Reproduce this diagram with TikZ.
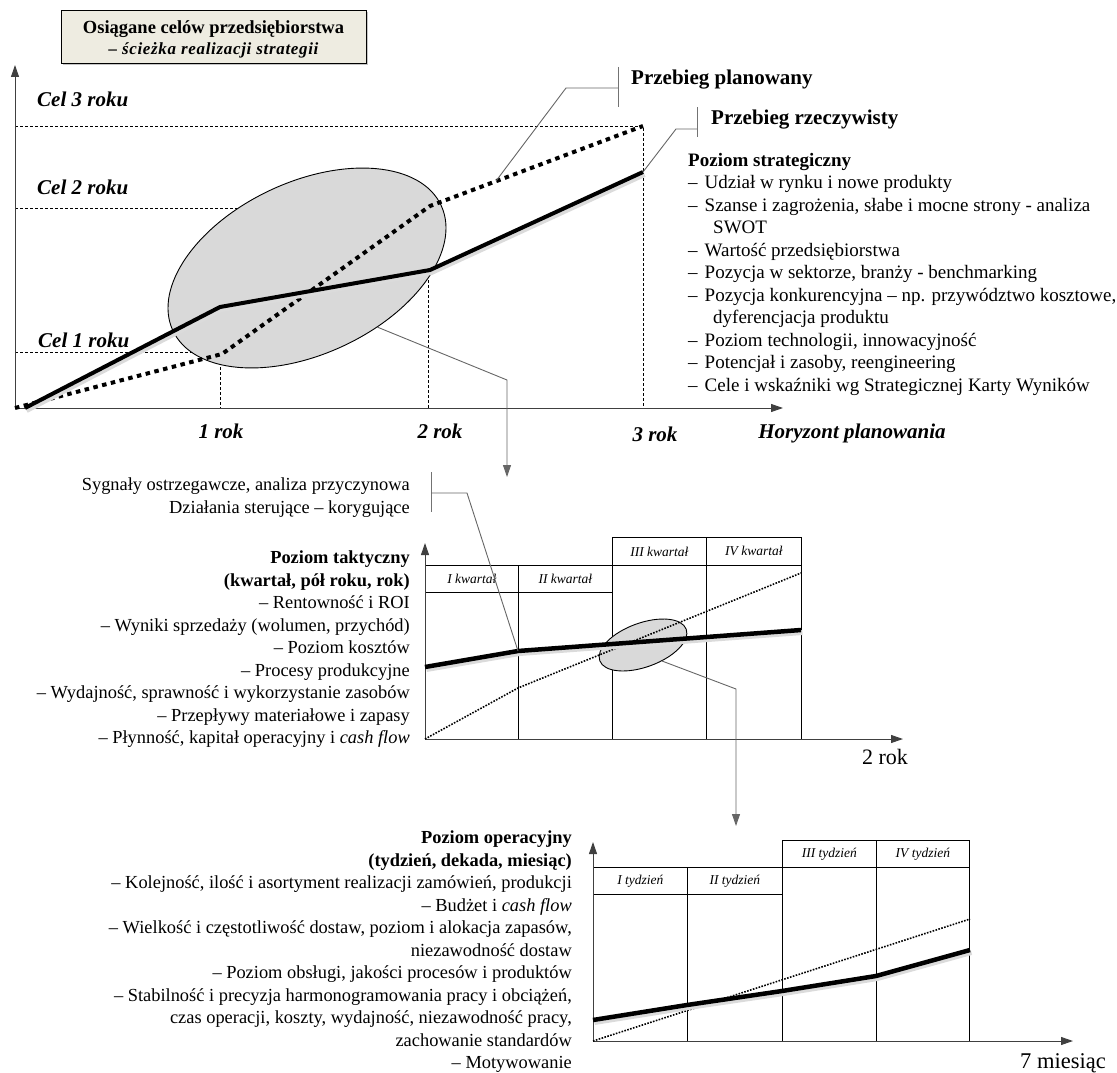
\documentclass[tikz,border=0pt]{standalone}
\usepackage{fontspec}
\setmainfont{Liberation Serif}
\usetikzlibrary{arrows.meta,shapes.geometric,shadows}
\definecolor{titlebg}{RGB}{238,236,225}

\begin{document}
\begin{tikzpicture}[x=1pt,y=-1pt,
	axis/.style={line width=1pt, black!75, -{Triangle[length=12pt,width=8pt]}},
	guide/.style={line width=0.7pt, dash pattern=on 3pt off 2pt},
	callout/.style={line width=0.9pt, black!60},
	bar/.style={line width=1pt, black!55},
	planthick/.style={line width=4pt, dash pattern=on 4.5pt off 4.5pt},
	realthick/.style={line width=4pt, line join=round},
	realshadow/.style={line width=5pt, black!14, line join=round},
	planthin/.style={line width=1.6pt, dash pattern=on 1.6pt off 1.4pt},
	cell/.style={line width=0.8pt},
	cellbox/.style={draw, line width=0.8pt, inner sep=0pt, anchor=north west, font=\fontsize{13.5}{15}\selectfont\itshape},
	goal/.style={inner sep=0pt, font=\fontsize{21}{24}\selectfont\bfseries\itshape},
	body/.style={inner sep=0pt, font=\fontsize{18.4}{22.5}\selectfont},
	]
	%%%%% START %%%%%
	\useasboundingbox (0,0) rectangle (1117,1073);
	
	% title
	\node[draw, fill=titlebg, drop shadow={shadow xshift=2pt, shadow yshift=-2pt, fill=black!45},
	minimum width=305pt, minimum height=53pt, inner sep=0pt, align=center,
	font=\fontsize{18.5}{21}\selectfont] (title) at (213.5,36.5)
	{\rule{0pt}{19pt}\bfseries Osiągane celów przedsiębiorstwa\\
		{\fontsize{17}{21}\selectfont\addfontfeature{LetterSpace=4}\bfseries\itshape – ścieżka realizacji strategii}};
	
	%%%%% strategic level %%%%%
	\coordinate (O) at (15,408);
	
	\draw[guide] (15,126) -- (643,126) -- (643,408);
	\draw[guide] (15,208) -- (428,208) -- (428,408);
	\draw[guide] (15,352) -- (220,352);
	\draw[guide] (220,307) -- (220,408);
	
	\node[ellipse, draw, line width=0.9pt, fill=black!15, minimum width=296pt, minimum height=172pt,
	inner sep=0pt, rotate=25] (bigell) at (307,268) {};
	
	\draw[axis] (O) -- (15,65);
	\draw[axis] (O) -- (783,408);
	
	\draw[planthick] (15,408) -- (222,354) -- (430,206) -- (643,126);
	\draw[realshadow, shift={(1.5,2.5)}] (25,408) -- (220,307) -- (430,270) -- (643,172);
	\draw[realthick] (25,408) -- (220,307) -- (430,270) -- (643,172);
	
	\node[goal, anchor=west] (cel3) at (37,99) {Cel 3 roku};
	\node[goal, anchor=west] (cel2) at (37,187) {Cel 2 roku};
	\node[goal, anchor=west] (cel1) at (38,340) {Cel 1 roku};
	
	\node[goal] (rok1) at (221,431) {1 rok};
	\node[goal] (rok2) at (440,431) {2 rok};
	\node[goal] (rok3) at (655,434) {3 rok};
	\node[goal] (horyzont) at (852,433) {Horyzont planowania};
	
	\coordinate (planpt) at (496,181);
	\coordinate (realpt) at (643,172);
	\draw[callout] (planpt) -- (566,88) -- (618,88);
	\draw[bar] (618,67) -- (618,107);
	\node[inner sep=0pt, anchor=west, font=\fontsize{21}{24}\selectfont\bfseries] (plan) at (631,80) {Przebieg planowany};
	\draw[callout] (realpt) -- (676,129) -- (697,129);
	\draw[bar] (697,107) -- (697,137);
	\node[inner sep=0pt, anchor=west, font=\fontsize{21}{24}\selectfont\bfseries] (real) at (711,120) {Przebieg rzeczywisty};
	
	\node[body, font=\fontsize{19}{22.5}\selectfont, anchor=north west, align=left] (strat) at (688,153) {\textbf{Poziom strategiczny}\\
		–\hspace{7pt}Udział w rynku i nowe produkty\\
		–\hspace{7pt}Szanse i zagrożenia, słabe i mocne strony - analiza\\
		\hspace*{25pt}SWOT\\
		–\hspace{7pt}Wartość przedsiębiorstwa\\
		–\hspace{7pt}Pozycja w sektorze, branży - benchmarking\\
		–\hspace{7pt}Pozycja konkurencyjna – np. przywództwo kosztowe,\\
		\hspace*{25pt}dyferencjacja produktu\\
		–\hspace{7pt}Poziom technologii, innowacyjność\\
		–\hspace{7pt}Potencjał i zasoby, reengineering\\
		–\hspace{7pt}Cele i wskaźniki wg Strategicznej Karty Wyników};
	
	\draw[callout, -{Triangle[length=12pt,width=8pt]}] (bigell.-65) -- (507,380) -- (507,477);
	
	%%%%% tactical level %%%%%
	\coordinate (O2) at (425,739);
	\node[body, anchor=north east, align=right] (signals) at (410,478)
	{Sygnały ostrzegawcze, analiza przyczynowa\\ Działania sterujące – korygujące};
	
	\node[body, anchor=north east, align=right] (tact) at (410,551) {\textbf{Poziom taktyczny}\\
		\textbf{(kwartał, pół roku, rok)}\\
		– Rentowność i ROI\\
		– Wyniki sprzedaży (wolumen, przychód)\\
		– Poziom kosztów\\
		– Procesy produkcyjne\\
		– Wydajność, sprawność i wykorzystanie zasobów\\
		– Przepływy materiałowe i zapasy\\
		– Płynność, kapitał operacyjny i \textit{cash flow}};
	
	\node[cellbox, minimum width=93pt, minimum height=27pt] (q1) at (425,565) {I kwartał};
	\node[cellbox, minimum width=94pt, minimum height=27pt] (q2) at (518,565) {II kwartał};
	\node[cellbox, minimum width=94pt, minimum height=28pt] (q3) at (612,537) {III kwartał};
	\node[cellbox, minimum width=95pt, minimum height=28pt] (q4) at (706,537) {IV kwartał};
	\draw[cell] (q2.south west) -- (q2.south west |- O2);
	\draw[cell] (q3.south west) -- (q3.south west |- O2);
	\draw[cell] (q4.south west) -- (q4.south west |- O2);
	\draw[cell] (q4.south east) -- (q4.south east |- O2);
	
	\node[ellipse, draw, line width=0.9pt, fill=black!15, minimum width=92pt, minimum height=44pt,
	inner sep=0pt, rotate=20] (smallell) at (643,645) {};
	
	\draw[axis] (O2) -- (425,543);
	\draw[axis] (O2) -- (903,739);
	\node[inner sep=0pt, font=\fontsize{22}{24}\selectfont] (rok2b) at (885,757) {2 rok};
	
	\draw[planthin] (425,739) -- (518,688) -- (801,573);
	\draw[realshadow, shift={(1.5,2.5)}] (425,667) -- (518,651) -- (801,630);
	\draw[realthick, line width=4.5pt] (425,667) -- (518,651) -- (801,630);
	
	\coordinate (tacbreak) at (518,651);
	\draw[bar] (431,472) -- (431,512);
	\draw[callout] (431,493) -- (467,493) -- (tacbreak);
	\draw[callout, -{Triangle[length=12pt,width=8pt]}] (smallell.-60) -- (736,689) -- (736,826);
	
	%%%%% operational level %%%%%
	\coordinate (O3) at (593,1041);
	\node[body, anchor=north east, align=right] (oper) at (572,831) {\textbf{Poziom operacyjny}\\
		\textbf{(tydzień, dekada, miesiąc)}\\
		– Kolejność, ilość i asortyment realizacji zamówień, produkcji\\
		– Budżet i \textit{cash flow}\\
		– Wielkość i częstotliwość dostaw, poziom i alokacja zapasów,\\
		niezawodność dostaw\\
		– Poziom obsługi, jakości procesów i produktów\\
		– Stabilność i precyzja harmonogramowania pracy i obciążeń,\\
		czas operacji, koszty, wydajność, niezawodność pracy,\\
		zachowanie standardów\\
		– Motywowanie};
	
	\node[cellbox, minimum width=94pt, minimum height=27pt] (w1) at (593,867) {I tydzień};
	\node[cellbox, minimum width=95pt, minimum height=27pt] (w2) at (687,867) {II tydzień};
	\node[cellbox, minimum width=94pt, minimum height=27pt] (w3) at (782,840) {III tydzień};
	\node[cellbox, minimum width=93pt, minimum height=27pt] (w4) at (876,840) {IV tydzień};
	\draw[cell] (w2.south west) -- (w2.south west |- O3);
	\draw[cell] (w3.south west) -- (w3.south west |- O3);
	\draw[cell] (w4.south west) -- (w4.south west |- O3);
	\draw[cell] (w4.south east) -- (w4.south east |- O3);
	
	\draw[axis] (O3) -- (593,842);
	\draw[axis] (O3) -- (1073,1041);
	\node[inner sep=0pt, font=\fontsize{22.5}{24}\selectfont] (month) at (1063,1063) {7 miesiąc};
	
	\draw[planthin] (593,1041) -- (970,919);
	\draw[realshadow, shift={(1.5,2.5)}] (593,1020) -- (687,1005) -- (782,991) -- (876,976) -- (970,950);
	\draw[realthick, line width=4.5pt] (593,1020) -- (687,1005) -- (782,991) -- (876,976) -- (970,950);
	
	%%%%% END %%%%%
\end{tikzpicture}
\end{document}
